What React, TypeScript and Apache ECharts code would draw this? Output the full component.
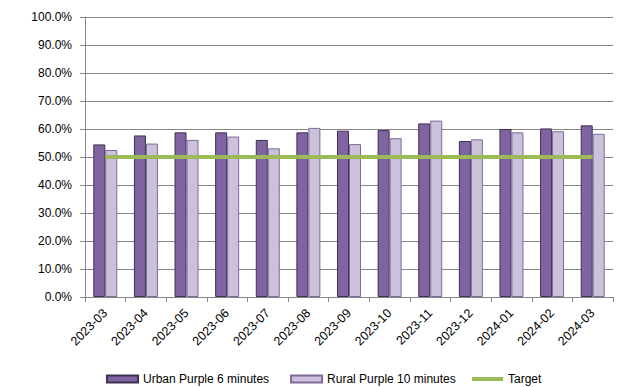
import React, { useEffect, useRef } from "react";
import * as echarts from "echarts";

const categories = ["2023-03","2023-04","2023-05","2023-06","2023-07","2023-08","2023-09","2023-10","2023-11","2023-12","2024-01","2024-02","2024-03"];
const urban = [54.5, 57.7, 58.8, 58.8, 56.1, 58.8, 59.4, 59.6, 62.0, 55.7, 60.0, 60.2, 61.3];
const rural = [52.5, 54.8, 56.1, 57.3, 53.1, 60.4, 54.6, 56.7, 63.0, 56.3, 58.8, 59.2, 58.3];
const target = [50, 50, 50, 50, 50, 50, 50, 50, 50, 50, 50, 50, 50];

export default function App() {
  const ref = useRef<HTMLDivElement>(null);
  useEffect(() => {
    const chart = echarts.init(ref.current!, null, { renderer: "svg" });
    const font = "Liberation Sans, Arial, sans-serif";
    chart.setOption({
      animation: false,
      textStyle: { fontFamily: font },
      grid: { left: 85, right: 14, top: 17, bottom: 90 },
      legend: [
        {
          top: 368,
          left: 101,
          itemGap: 21,
          itemWidth: 31,
          itemHeight: 7,
          textStyle: { fontSize: 12, color: "#000", fontFamily: font },
          data: [
            { name: "Urban Purple 6 minutes", icon: "rect" },
            { name: "Rural Purple 10 minutes", icon: "rect" },
          ],
        },
        {
          top: 368,
          left: 467,
          itemWidth: 31,
          itemHeight: 4,
          itemGap: 3,
          textStyle: { fontSize: 12, color: "#000", fontFamily: font },
          data: [{ name: "Target", icon: "rect" }],
        },
      ],
      xAxis: {
        type: "category",
        data: categories,
        axisLine: { lineStyle: { color: "#868686" } },
        axisTick: { show: true, length: 5, lineStyle: { color: "#868686" } },
        axisLabel: { rotate: 45, fontSize: 12.5, color: "#000", margin: 14, interval: 0 },
      },
      yAxis: {
        type: "value",
        min: 0,
        max: 100,
        interval: 10,
        axisLine: { show: true, lineStyle: { color: "#868686" } },
        axisTick: { show: true, length: 5, lineStyle: { color: "#868686" } },
        splitLine: { lineStyle: { color: "#868686" } },
        axisLabel: {
          fontSize: 12,
          color: "#000",
          margin: 13,
          formatter: (v: number) => v.toFixed(1) + "%",
        },
      },
      series: [
        {
          name: "Urban Purple 6 minutes",
          type: "bar",
          data: urban,
          barWidth: 12,
          barGap: "0%",
          itemStyle: { color: "#8064A2", borderColor: "#3F3151", borderWidth: 1 },
        },
        {
          name: "Rural Purple 10 minutes",
          type: "bar",
          data: rural,
          barWidth: 12,
          barGap: "0%",
          itemStyle: { color: "#CCC1DA", borderColor: "#7E6A9B", borderWidth: 1 },
        },
        {
          name: "Target",
          type: "line",
          data: target,
          symbol: "none",
          lineStyle: { color: "#9BBB59", width: 4 },
          itemStyle: { color: "#9BBB59" },
        },
      ],
    });
    return () => chart.dispose();
  }, []);
  return (
    <div
      ref={ref}
      style={{ position: "absolute", left: 0, top: 0, width: 627, height: 387 }}
    />
  );
}
